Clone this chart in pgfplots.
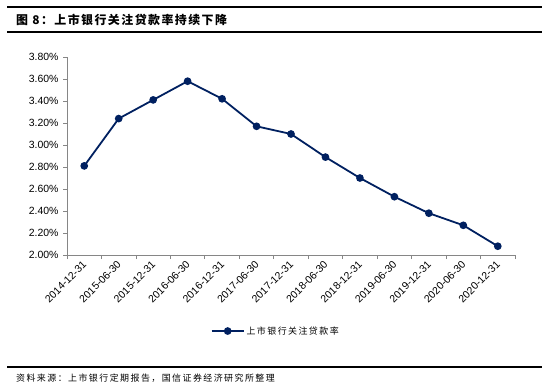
\documentclass[border=0pt]{standalone}
\usepackage{fontspec}
\setmainfont{Liberation Sans}
\newfontfamily\cjk{Noto Sans CJK SC}
\usepackage{pgfplots}
\pgfplotsset{compat=1.18}
\definecolor{navy}{RGB}{0,32,96}
\definecolor{axgray}{RGB}{134,134,134}
\begin{document}
\begin{tikzpicture}[x=1bp,y=1bp]
\path[use as bounding box] (0,0) rectangle (548,388);
\draw[line width=1.2bp] (7,381) -- (542,381);
\draw[line width=1.2bp] (7,356) -- (542,356);
\draw[line width=1.2bp] (7,21) -- (542,21);
\node[anchor=west,inner sep=0] at (16,368.5) {\cjk\bfseries\fontsize{12}{14}\selectfont\addfontfeature{LetterSpace=12}图 8：上市银行关注贷款率持续下降};
\node[anchor=west,inner sep=0] at (16,10) {\cjk\fontsize{9}{11}\selectfont\addfontfeature{LetterSpace=16}资料来源：上市银行定期报告，国信证券经济研究所整理};
\begin{axis}[
  at={(67bp,133bp)}, anchor=south west,
  scale only axis, width=448bp, height=198bp,
  xmin=-0.5, xmax=12.5, ymin=2, ymax=3.8,
  axis x line*=bottom, axis y line*=left,
  axis line style={axgray, line width=0.8bp, -},
  tick align=outside,
  major tick length=4bp, minor tick length=4bp,
  tick style={axgray, line width=0.8bp},
  ytick={2,2.2,2.4,2.6,2.8,3.0,3.2,3.4,3.6,3.8},
  yticklabel={\pgfmathprintnumber[fixed,fixed zerofill,precision=2]{\tick}\%},
  /pgf/number format/assume math mode=true,
  yticklabel style={font=\fontsize{10.5}{12}\selectfont, xshift=-1bp},
  xtick={0,...,12},
  xticklabels={2014-12-31,2015-06-30,2015-12-31,2016-06-30,2016-12-31,2017-06-30,2017-12-31,2018-06-30,2018-12-31,2019-06-30,2019-12-31,2020-06-30,2020-12-31},
  major x tick style={draw=none},
  minor xtick={-0.5,0.5,...,12.5},
  xticklabel style={rotate=45, anchor=east, font=\fontsize{10.5}{12}\selectfont, yshift=-3bp, xshift=1bp},
  legend style={at={(0.466,-0.384)}, anchor=center, draw=none, font=\cjk\fontsize{9}{11}\selectfont\addfontfeature{LetterSpace=16}},
  legend image code/.code={\draw[mark repeat=2,mark phase=2,#1] plot coordinates {(0bp,0bp)(16bp,0bp)(32bp,0bp)};},
  clip=false,
]
\addplot[navy, line width=1.8bp, mark=*, mark size=2.9bp, mark options={fill=navy, draw=navy, solid}] coordinates {(0,2.81)(1,3.24)(2,3.41)(3,3.58)(4,3.42)(5,3.17)(6,3.10)(7,2.89)(8,2.70)(9,2.53)(10,2.38)(11,2.27)(12,2.08)};
\addlegendentry{上市银行关注贷款率}
\end{axis}
\end{tikzpicture}
\end{document}
